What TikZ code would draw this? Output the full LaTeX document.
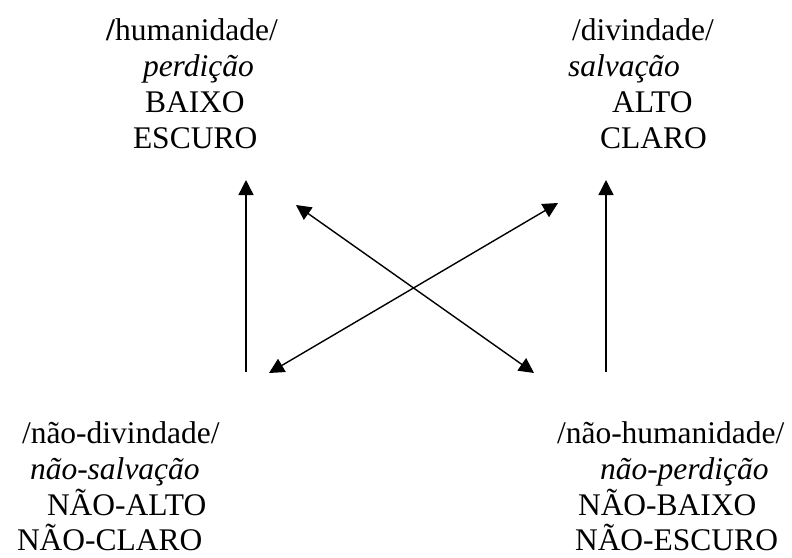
\documentclass[tikz,border=0pt]{standalone}
\usepackage{fontspec}
\setmainfont{Liberation Serif}
\usetikzlibrary{arrows.meta}
\begin{document}
\begin{tikzpicture}[x=1pt,y=-1pt,
  term/.style={anchor=base west,inner sep=0pt,outer sep=0pt,font=\fontsize{31.5}{36}\selectfont},
  link/.style={line width=1.4pt,-{Triangle[length=15pt,width=15pt]}},
  twoway/.style={line width=1.4pt,{Triangle[length=15pt,width=15pt]}-{Triangle[length=15pt,width=15pt]}}]
\useasboundingbox (0,0) rectangle (792,557);

% upper left: humanidade
\node[term] (hum)  at (106,40)  {\textbf{/}humanidade/};
\node[term] (hum2) at (143,76)  {\itshape perdição};
\node[term] (hum3) at (145,112) {BAIXO};
\node[term] (hum4) at (133,148) {ESCURO};

% upper right: divindade
\node[term] (div)  at (572,40)  {/divindade/};
\node[term] (div2) at (568,76)  {\itshape salvação};
\node[term] (div3) at (612,112) {ALTO};
\node[term] (div4) at (600,148) {CLARO};

% lower left: não-divindade
\node[term] (ndiv)  at (22,443) {/não-divindade/};
\node[term] (ndiv2) at (30,479) {\itshape não-salvação};
\node[term] (ndiv3) at (47,515) {NÃO-ALTO};
\node[term] (ndiv4) at (17,550) {NÃO-CLARO};

% lower right: não-humanidade
\node[term] (nhum)  at (557,443) {/não-humanidade/};
\node[term] (nhum2) at (600,479) {\itshape não-perdição};
\node[term] (nhum3) at (578,515) {NÃO-BAIXO};
\node[term] (nhum4) at (575,550) {NÃO-ESCURO};

% arrow end points
\coordinate (ltop) at (246,180);
\coordinate (lbot) at (246,372);
\coordinate (rtop) at (606,180);
\coordinate (rbot) at (606,372);
\coordinate (d1a) at (296,205);
\coordinate (d1b) at (534,373);
\coordinate (d2a) at (269,373);
\coordinate (d2b) at (558,203);

% implications and contradictions
\draw[link] (lbot) -- (ltop);
\draw[link] (rbot) -- (rtop);
\draw[twoway] (d1a) -- (d1b);
\draw[twoway] (d2a) -- (d2b);
\end{tikzpicture}
\end{document}
